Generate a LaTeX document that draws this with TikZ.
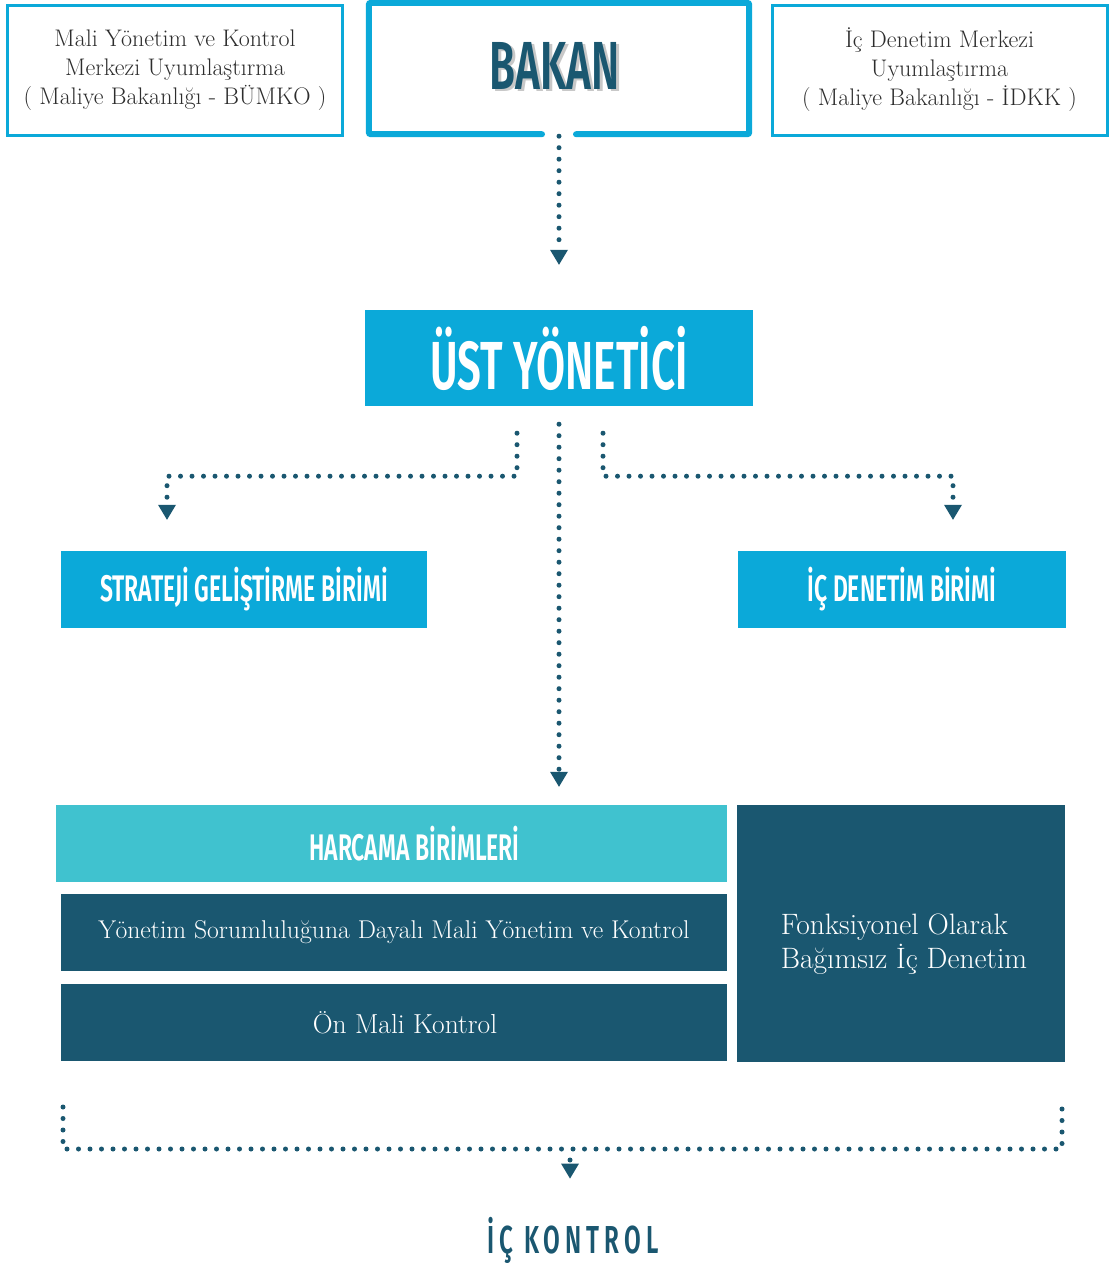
\documentclass[tikz,border=0pt]{standalone}
\usepackage{fontspec}
\newfontfamily\headfont[FakeStretch=0.62]{Fira Sans SemiBold}
\newfontfamily\spacedfont[FakeStretch=0.62,LetterSpace=13]{Fira Sans SemiBold}
\usetikzlibrary{arrows.meta}
\definecolor{mavi}{RGB}{11,169,217}
\definecolor{lacivert}{RGB}{26,87,112}
\definecolor{turkuaz}{RGB}{64,194,207}
\definecolor{golge}{RGB}{200,200,200}
\definecolor{yazi}{RGB}{45,45,45}

\begin{document}
\begin{tikzpicture}[x=1pt,y=-1pt,
  kutu/.style={draw=mavi,line width=3pt,minimum width=335pt,minimum height=130pt,
    inner sep=0pt,align=center,text=yazi,font=\fontsize{24}{29}\selectfont},
  blok/.style={fill=#1,inner sep=0pt,text=white},
  baslik/.style={font=\headfont\fontsize{#1}{#1}\selectfont},
  metin/.style={font=\fontsize{#1}{34}\selectfont},
  noktali/.style={draw=lacivert,line width=5pt,line cap=round,dash pattern=on 0pt off 11.5pt},
  ok/.style={-{Triangle[width=18pt,length=15pt,line width=0pt]}}]
  \useasboundingbox (0,0) rectangle (1112,1266);

  % ust sira
  \node[kutu] (mykm) at (175,70) {Mali Yönetim ve Kontrol\\Merkezi Uyumlaştırma\\( Maliye Bakanlığı - BÜMKO )};
  \node[kutu] (idkk) at (939.5,70) {İç Denetim Merkezi\\Uyumlaştırma\\( Maliye Bakanlığı - İDKK )};

  \node[minimum width=380pt,minimum height=131pt,inner sep=0pt] (bakan) at (559,68.5) {};
  \draw[mavi,line width=6pt,rounded corners=2pt,line cap=round]
    ([xshift=-17pt]bakan.south) -| (bakan.north west) -| (bakan.south east) -- ([xshift=17pt]bakan.south);
  \node[baslik=68,text=golge] at (557.5,68) {BAKAN};
  \node[baslik=68,text=lacivert] (bakanyazi) at (554.5,65.5) {BAKAN};

  % yonetici ve birimler
  \node[blok=mavi,minimum width=388pt,minimum height=96pt,baslik=68] (ust) at (559,358) {ÜST YÖNETİCİ};
  \node[blok=mavi,minimum width=366pt,minimum height=77pt,baslik=37] (sgb) at (244,589.5) {STRATEJİ GELİŞTİRME BİRİMİ};
  \node[blok=mavi,minimum width=328pt,minimum height=77pt,baslik=37] (idb) at (902,589.5) {İÇ DENETİM BİRİMİ};

  \draw[noktali,ok,shorten <=2pt,shorten >=45pt] (bakan.south) -- (ust.north);
  \draw[noktali,ok,shorten <=27pt,shorten >=31pt] ([xshift=-42pt]ust.south) -- ++(0,70) -| ([xshift=-77pt]sgb.north);
  \draw[noktali,ok,shorten <=27pt,shorten >=31pt] ([xshift=44pt]ust.south) -- ++(0,70) -| ([xshift=51pt]idb.north);

  % harcama birimleri
  \node[blok=turkuaz,minimum width=671pt,minimum height=77pt] (harcama) at (391.5,843.5) {};
  \node[baslik=37,text=white] (harcamayazi) at ([xshift=23pt]harcama.center) {HARCAMA BİRİMLERİ};
  \node[blok=lacivert,minimum width=666pt,minimum height=77pt,metin=25.7] (ysmy) at (394,932.5)
    {Yönetim Sorumluluğuna Dayalı Mali Yönetim ve Kontrol};
  \node[blok=lacivert,minimum width=666pt,minimum height=77pt] (onmali) at (394,1022.5) {};
  \node[metin=27.5,text=white] (onmaliyazi) at ([xshift=11pt]onmali.center) {Ön Mali Kontrol};
  \node[blok=lacivert,minimum width=328pt,minimum height=257pt] (fonks) at (901,933.5) {};
  \node[metin=29.5,text=white,align=left] (fonksyazi) at ([xshift=3pt,yshift=-11pt]fonks.center)
    {Fonksiyonel Olarak\\Bağımsız İç Denetim};

  \draw[noktali,ok,shorten <=18pt,shorten >=18pt] (ust.south) -- (ust.south |- harcama.north);

  % ic kontrol
  \coordinate (sol) at (63,1107);
  \coordinate (sag) at (1062,1107);
  \coordinate (orta) at (570,1149);
  \draw[noktali] (sol) -- ++(0,42) -| (sag);
  \node[font=\spacedfont\fontsize{39}{39}\selectfont,text=lacivert,inner sep=0pt,anchor=base] (kontrol) at (573,1253) {İÇ KONTROL};
  \draw[noktali,ok,shorten <=11pt,shorten >=38pt] (orta) -- (orta |- kontrol.north);

\end{tikzpicture}
\end{document}
